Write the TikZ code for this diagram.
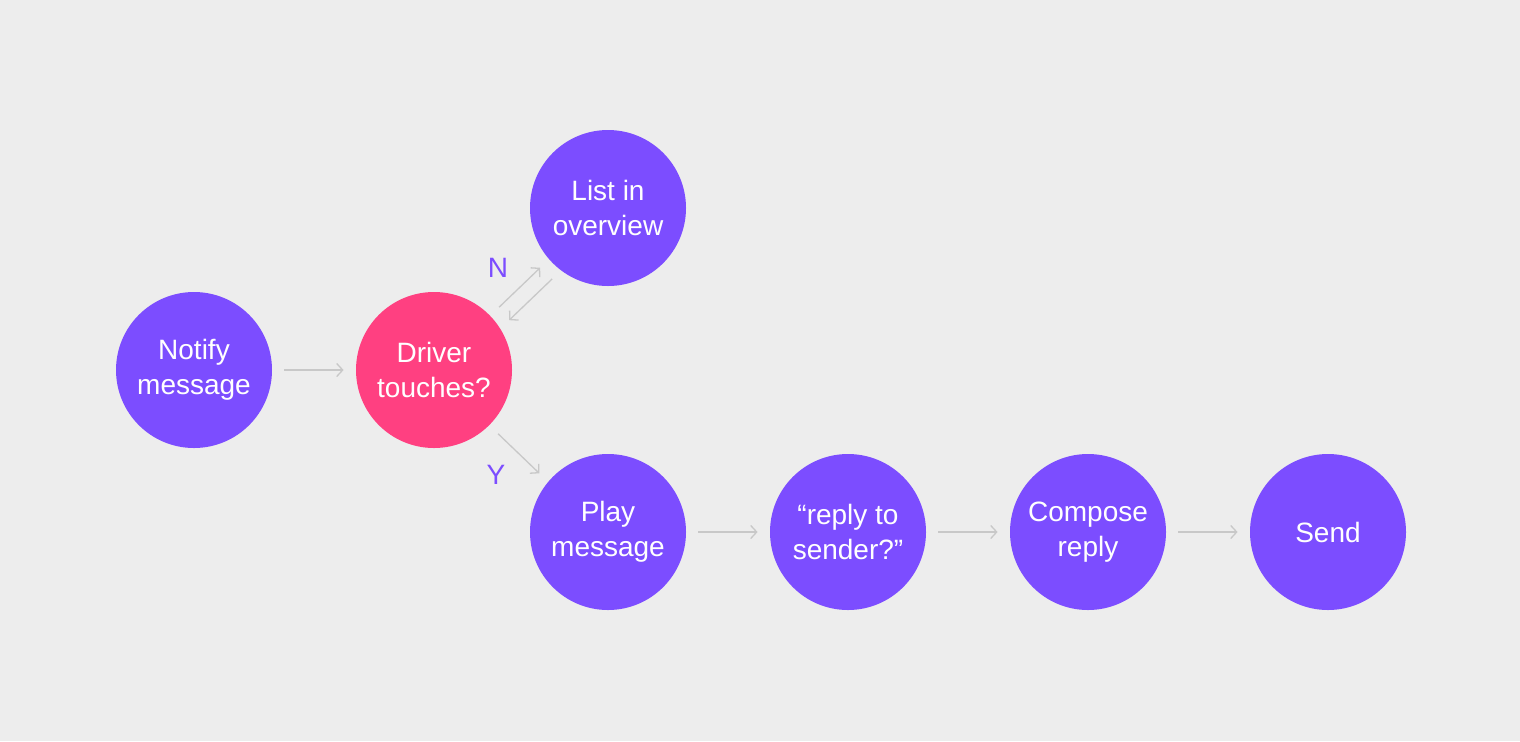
\documentclass[tikz,border=0pt]{standalone}
\usepackage{fontspec}
\setmainfont{Liberation Sans}
\usepackage{tikz}
\usetikzlibrary{positioning,arrows.meta}
\definecolor{bgcol}{RGB}{237,237,237}
\definecolor{violet}{RGB}{124,77,255}
\definecolor{rose}{RGB}{255,64,129}
\definecolor{linecol}{RGB}{200,200,200}
\begin{document}
\begin{tikzpicture}[x=0.5pt,y=-0.5pt,
  main/.style = {circle, fill=violet, text=white, minimum size=78pt, inner sep=0pt,
    align=center, font=\fontsize{14pt}{17.5pt}\selectfont},
  flow/.style = {draw=linecol, line width=0.65pt, shorten <=6pt, shorten >=6pt,
    -{Straight Barb[length=3pt,width=6.5pt,line width=0.65pt]}},
  lbl/.style = {text=violet, font=\fontsize{14pt}{17pt}\selectfont},
  node distance={120pt}, on grid]
\fill[bgcol] (0,0) rectangle (1520,741);
\useasboundingbox (0,0) rectangle (1520,741);
\node[main] (notify) at (194,370) {Notify\\message};
\node[main] (driver) [right=of notify][fill=rose] {Driver\\touches?};
\node[main] (list) [above right=81pt and 87pt of driver] {List in\\overview};
\node[main] (play) [below right=81pt and 87pt of driver] {Play\\message};
\node[main] (reply) [right=of play] {“reply to\\sender?”};
\node[main] (compose) [right=of reply] {Compose\\reply};
\node[main] (send) [right=of compose] {Send};
\node[lbl] (no) at (498,268) {N};
\node[lbl] (yes) at (496,475) {Y};
\draw[flow] (notify) -- (driver);
\draw[flow] (driver.44) -- (list.221);
\draw[flow] (list.233) -- (driver.32);
\draw[flow] (driver.-45) -- (play.140);
\draw[flow] (play) -- (reply);
\draw[flow] (reply) -- (compose);
\draw[flow] (compose) -- (send);
\end{tikzpicture}
\end{document}
